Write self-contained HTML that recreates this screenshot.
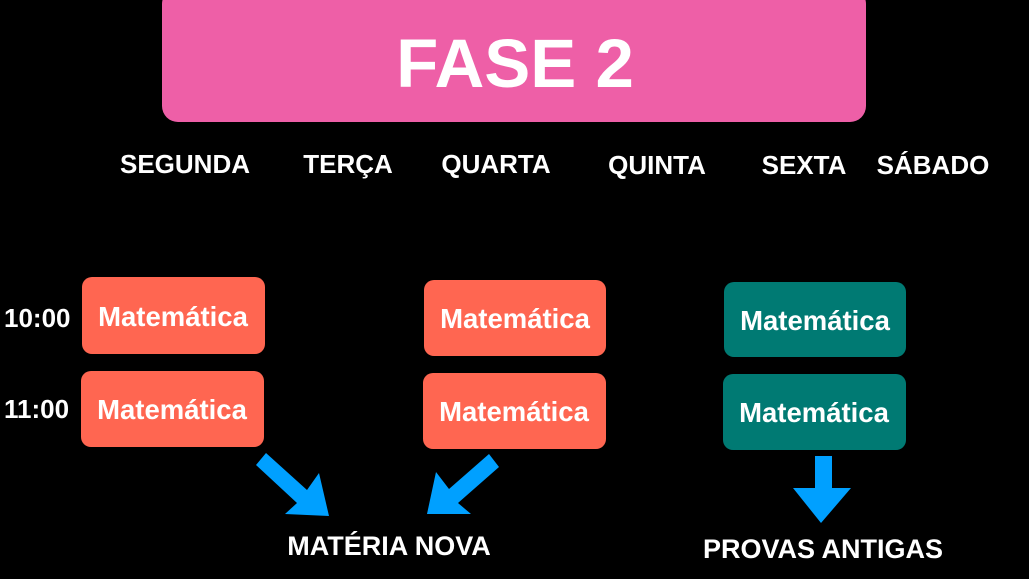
<!DOCTYPE html>
<html><head><meta charset="utf-8"><style>
html,body{margin:0;padding:0;background:#000;width:1029px;height:579px;overflow:hidden}
svg{display:block}
text{font-family:"Liberation Sans",Arial,sans-serif;font-weight:bold;fill:#fff}
</style></head><body>
<svg width="1029" height="579" viewBox="0 0 1029 579">
<rect x="0" y="0" width="1029" height="579" fill="#000"/>
<rect x="162" y="-12" width="704" height="134" rx="16" fill="#EE5FA7"/>
<text x="515" y="87" font-size="69" text-anchor="middle">FASE 2</text>
<g font-size="26" text-anchor="middle">
<text x="185" y="173">SEGUNDA</text>
<text x="348" y="173">TERÇA</text>
<text x="496" y="173">QUARTA</text>
<text x="657" y="174">QUINTA</text>
<text x="804" y="174">SEXTA</text>
<text x="933" y="174">SÁBADO</text>
</g>
<text x="4" y="327" font-size="26">10:00</text>
<text x="4" y="418" font-size="26">11:00</text>
<g>
<rect x="82" y="277" width="183" height="77" rx="10" fill="#FF6651"/>
<rect x="81" y="371" width="183" height="76" rx="10" fill="#FF6651"/>
<rect x="424" y="280" width="182" height="76" rx="10" fill="#FF6651"/>
<rect x="423" y="373" width="183" height="76" rx="10" fill="#FF6651"/>
<rect x="724" y="282" width="182" height="75" rx="10" fill="#007A73"/>
<rect x="723" y="374" width="183" height="76" rx="10" fill="#007A73"/>
</g>
<g font-size="27.5" text-anchor="middle">
<text x="173" y="326">Matemática</text>
<text x="172" y="419">Matemática</text>
<text x="515" y="328">Matemática</text>
<text x="514" y="421">Matemática</text>
<text x="815" y="330">Matemática</text>
<text x="814" y="422">Matemática</text>
</g>
<g fill="#00A0FF">
<polygon points="266,453 256,465 297,503 285,514 329,516 319,473 307,490"/>
<polygon points="489,454 499,467 458,503 471,514 427,514 436,472 449,489"/>
<polygon points="815,456 832,456 832,488 851,488 821,523 793,488 815,488"/>
</g>
<text x="389" y="555" font-size="27" text-anchor="middle">MATÉRIA NOVA</text>
<text x="823" y="558" font-size="27" text-anchor="middle">PROVAS ANTIGAS</text>
</svg>
</body></html>
